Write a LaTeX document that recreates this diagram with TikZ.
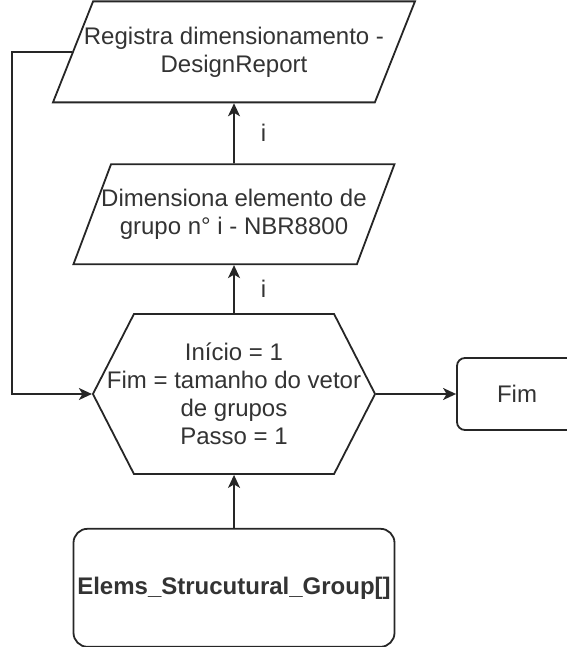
\documentclass[tikz,border=0pt]{standalone}
\usepackage{fontspec}
\setmainfont{Liberation Sans}
\usetikzlibrary{arrows.meta, positioning, shapes.geometric, shapes.symbols, calc}

\begin{document}
\begin{tikzpicture}[
    font=\fontsize{24}{28}\selectfont,
    every node/.style={text=black!80},
    io/.style={trapezium, draw=black!85, line width=1.8pt, trapezium stretches body=true, align=center, inner xsep=-11pt, inner ysep=23pt},
    loopbox/.style={signal, signal to=west and east, signal pointer angle=125.7, draw=black!85, line width=1.8pt, minimum height=160pt, align=center, inner ysep=0pt, inner xsep=-27pt},
    term/.style={rectangle, draw=black!85, line width=1.8pt, align=center},
    arrow/.style={-{Stealth[length=13pt, width=12pt, inset=3.5pt]}, line width=1.8pt, draw=black!85},
    label/.style={inner sep=0pt, right=26pt}
]
    \useasboundingbox (0,0) rectangle (566pt,-647pt);

    % Laco de repeticao
    \node[loopbox] (loop) at (234pt,-394pt) {In\'icio = 1\\Fim = tamanho do vetor\\de grupos\\Passo = 1};

    % Dimensionamento e registro
    \node[io, trapezium left angle=68.7, trapezium right angle=111.3, minimum width=321pt, minimum height=100pt, above=48pt of loop] (dim) {Dimensiona elemento de\\grupo n\textdegree{} i - NBR8800};
    \node[io, trapezium left angle=67.4, trapezium right angle=112.6, minimum width=362pt, minimum height=101pt, above=60pt of dim] (reg) {Registra dimensionamento -\\DesignReport};

    % Entrada e fim
    \node[term, rounded corners=14pt, minimum width=321pt, minimum height=118pt, below=53pt of loop] (elems) {\textbf{Elems\_Strucutural\_Group[]}};
    \node[term, rounded corners=8pt, minimum width=120pt, minimum height=72pt, right=80pt of loop] (fim) {Fim};

    % Setas
    \draw[arrow] (elems) -- (loop);
    \draw[arrow] (loop) -- node[label] {i} (dim);
    \draw[arrow] (dim) -- node[label] {i} (reg);
    \draw[arrow] (loop) -- (fim);

    % Retorno ao laco
    \coordinate (regleft) at ($(reg.top left corner)!0.5!(reg.bottom left corner)$);
    \draw[arrow] (regleft) -- ++(-60pt,0) |- (loop.west);

\end{tikzpicture}
\end{document}
